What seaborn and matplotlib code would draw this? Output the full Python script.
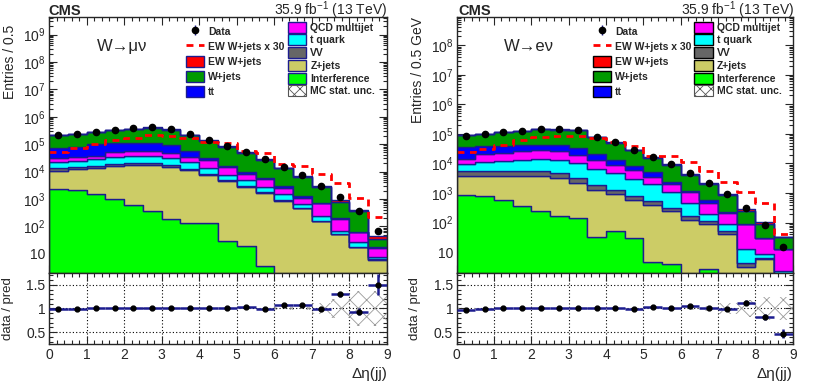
import numpy as np
import pandas as pd
import matplotlib
matplotlib.use("Agg")
import matplotlib.pyplot as plt
import seaborn as sns
from matplotlib.patches import Patch
from matplotlib.lines import Line2D
from matplotlib.ticker import LogLocator, FuncFormatter, MultipleLocator, FixedLocator, NullFormatter

# binning in delta eta(jj)
edges = np.arange(0, 9.5, 0.5)
centers = edges[:-1] + 0.25
bin_list = edges.tolist()

# stack order, bottom to top
procs = ["Interference", "Z+jets", "VV", "t quark", "QCD multijet", "tt", "W+jets", "EW W+jets"]
colors = {"Interference": "#00ff00", "Z+jets": "#cccc66", "VV": "#666666", "t quark": "#00ffff",
          "QCD multijet": "#ff00ff", "tt": "#0000ff", "W+jets": "#009a00", "EW W+jets": "#ff0000"}

# ---- W -> mu nu ----
mu_interf = [2300, 2200, 1500, 1000, 600, 360, 180, 135, 128, 30, 19, 3.6, 0, 0, 0, 0, 0, 0]
mu_zjets = [8400, 9800, 12500, 15000, 16900, 17100, 14800, 10900, 7100, 4370, 2680, 1600, 850, 450, 155, 52, 17, 6]
mu_vv = [2300, 2300, 2000, 3000, 3000, 3000, 2500, 1500, 800, 400, 250, 120, 60, 25, 7, 2, 0.5, 0.2]
mu_top = [10000, 10700, 12000, 14000, 15500, 15500, 13500, 10500, 5500, 2700, 2050, 980, 640, 175, 78, 16, 10.5, 1.4]
mu_qcd = [7000, 8000, 9000, 17000, 21000, 21000, 16000, 12000, 12500, 7000, 3000, 2500, 1050, 450, 460, 120, 34, 8.4]
mu_tt = [43000, 47000, 61000, 56000, 55000, 55000, 48000, 21000, 6000, 2000, 1300, 400, 450, 170, 20, 10, 2, 1]
mu_wjets = [144000, 158000, 179000, 214000, 253000, 291000, 245000, 163000, 101000, 64800, 39300, 21400,
            10300, 5000, 1970, 560, 297, 19]
mu_ew = [1770, 2330, 3330, 4670, 5830, 7000, 6670, 5830, 4000, 3670, 1900, 1570, 630, 530, 270, 123, 37, 7.3]
mu_data = [215000, 235000, 280000, 325000, 375000, 410000, 350000, 230000, 140000, 87000, 52000, 28000,
           15000, 7300, 2900, 1150, 370, 65]
mu_ratio = [0.98, 0.98, 1.0, 1.0, 1.01, 1.0, 1.01, 1.02, 1.02, 1.02, 1.03, 0.98, 1.07, 1.07, 0.98, 1.3, 0.93, 1.5]
mu_rerr = [0.004, 0.004, 0.004, 0.004, 0.004, 0.004, 0.004, 0.005, 0.006, 0.008, 0.01, 0.012,
           0.015, 0.02, 0.03, 0.05, 0.07, 0.22]
mu_band = [0.01, 0.01, 0.01, 0.01, 0.01, 0.01, 0.01, 0.01, 0.01, 0.01, 0.015, 0.02,
           0.03, 0.04, 0.12, 0.19, 0.36, 0.36]

# ---- W -> e nu ----
el_interf = [870, 800, 580, 370, 250, 170, 140, 33, 53, 30, 4.7, 3.9, 0, 2.8, 0, 0, 0, 0]
el_zjets = [3000, 3100, 3300, 3500, 3650, 3130, 2060, 1270, 850, 540, 380, 240, 125, 85, 42, 3.2, 5.7, 0.5]
el_vv = [1500, 1600, 1700, 1700, 1700, 1500, 1100, 600, 350, 220, 140, 80, 40, 25, 9, 1, 0.5, 0.2]
el_top = [4600, 5500, 6900, 7400, 8400, 8030, 6700, 4600, 3550, 2210, 1575, 780, 285, 80, 37, 8.4, 2.3, 1.6]
el_qcd = [4000, 10000, 10500, 13000, 15000, 13000, 10000, 7000, 4200, 3000, 1500, 1000, 600, 280, 125, 76, 21.5, 10.3]
el_tt = [23000, 19000, 17000, 16000, 14000, 16000, 13000, 7500, 4000, 2000, 1400, 200, 150, 110, 10, 3, 1, 0.4]
el_wjets = [51900, 60000, 77600, 84900, 101300, 99000, 103000, 55600, 36800, 20300, 10900, 6600,
            3000, 1390, 650, 154, 57, 18.6]
el_ew = [830, 1030, 1430, 2100, 2700, 2930, 2930, 2400, 1730, 1330, 600, 600, 370, 190, 77, 35, 16, 1.4]
el_data = [87000, 100000, 120000, 130000, 148000, 145000, 140000, 80000, 52000, 29000, 17000, 9600,
           4800, 2200, 930, 315, 85, 15.5]
el_ratio = [0.97, 0.99, 1.01, 1.01, 1.01, 1.01, 1.01, 1.01, 1.01, 0.98, 1.03, 1.01, 1.05, 1.02, 0.98, 1.12, 0.82, 0.47]
el_rerr = [0.006, 0.006, 0.006, 0.006, 0.006, 0.006, 0.006, 0.008, 0.009, 0.012, 0.015, 0.02,
           0.025, 0.03, 0.04, 0.05, 0.06, 0.09]
el_band = [0.01, 0.01, 0.01, 0.01, 0.01, 0.01, 0.01, 0.01, 0.015, 0.015, 0.02, 0.02,
           0.04, 0.05, 0.11, 0.17, 0.25, 0.25]

sns.set_style("ticks", {"xtick.direction": "in", "ytick.direction": "in"})
plt.rcParams["font.family"] = ["Liberation Sans", "DejaVu Sans"]
plt.rcParams["mathtext.fontset"] = "custom"
plt.rcParams["mathtext.rm"] = "Liberation Sans"
plt.rcParams["mathtext.it"] = "Liberation Sans:italic"
plt.rcParams["mathtext.bf"] = "Liberation Sans:bold"
plt.rcParams["hatch.linewidth"] = 0.6

NAVY = "#1c1c8f"
DASH = (0, (2.5, 2))


def log_label(v, pos):
    e = int(round(np.log10(v)))
    if e == 1:
        return "10"
    return r"$10^{%d}$" % e


def draw(fig, x0, w, comps, ew, data, ratio, rerr, band, channel, ylab, ymax, ylab_y, box_edge):
    ax = fig.add_axes([x0, 0.302, w, 0.6547])
    rax = fig.add_axes([x0, 0.120, w, 0.182], sharex=ax)
    ax.set_yscale("log")

    df = pd.DataFrame({
        "process": np.repeat(procs, len(centers)),
        "x": np.tile(centers, len(procs)),
        "w": np.concatenate([comps[p] for p in procs]),
    })
    # seaborn puts the first hue level on top of the stack
    sns.histplot(data=df, x="x", weights="w", hue="process", hue_order=procs[::-1], palette=colors,
                 multiple="stack", bins=bin_list, element="step", fill=True, alpha=1,
                 edgecolor=NAVY, linewidth=1.0, legend=False, ax=ax)
    sns.histplot(x=centers, weights=np.array(ew) * 30, bins=bin_list, element="step", fill=False,
                 color="red", linestyle=DASH, linewidth=2, ax=ax)
    dh = ax.errorbar(centers, data, yerr=np.sqrt(data), fmt="o", color="black", ms=4.5,
                     ecolor=NAVY, elinewidth=1, capsize=0, zorder=5)

    ax.set_xlim(0, 9)
    ax.set_ylim(2, ymax)
    decades = [10.0 ** k for k in range(1, 10) if 10.0 ** k < ymax]
    ax.yaxis.set_major_locator(FixedLocator(decades))
    ax.yaxis.set_minor_locator(LogLocator(base=10, subs=np.arange(2, 10), numticks=200))
    ax.yaxis.set_major_formatter(FuncFormatter(log_label))
    ax.yaxis.set_minor_formatter(NullFormatter())
    ax.set_xlabel("")
    ax.set_ylabel(ylab, fontsize=10, loc="top")
    ax.yaxis.set_label_coords(-0.095, ylab_y)
    ax.text(0.142, 0.883, channel, transform=ax.transAxes, fontsize=12, va="center")

    # legends
    def box(p):
        return Patch(facecolor=colors[p], edgecolor=box_edge, linewidth=1)
    h_ew30 = Line2D([], [], color="red", linestyle=DASH, linewidth=2)
    h_unc = Patch(facecolor="white", edgecolor="#555555", hatch="xxx", linewidth=0.8)
    prop = {"size": 7.5, "weight": "bold"}
    common = dict(loc="upper left", frameon=False, prop=prop, handlelength=1.75, handleheight=1.25,
                  handletextpad=0.4, borderpad=0, borderaxespad=0)
    leg1 = ax.legend([dh, h_ew30, box("EW W+jets"), box("W+jets"), box("tt")],
                     ["Data", "EW W+jets x 30", "EW W+jets", "W+jets", "tt"],
                     bbox_to_anchor=(0.405, 0.966), labelspacing=0.38, **common)
    ax.add_artist(leg1)
    ax.legend([box("QCD multijet"), box("t quark"), box("VV"), box("Z+jets"), box("Interference"), h_unc],
              ["QCD multijet", "t quark", "VV", "Z+jets", "Interference", "MC stat. unc."],
              bbox_to_anchor=(0.707, 0.981), labelspacing=0.16, **common)

    # ratio panel
    band = np.array(band)
    rax.bar(centers, 2 * band, bottom=1 - band, width=0.5, color="none", edgecolor="#999999",
            hatch="xx", linewidth=0, zorder=2)
    rax.errorbar(centers, ratio, xerr=0.25, yerr=rerr, fmt="o", color="black", ms=3.5,
                 ecolor=NAVY, elinewidth=1.8, capsize=0, zorder=4)
    rax.set_ylim(0.25, 1.75)
    rax.yaxis.set_major_locator(FixedLocator([0.5, 1, 1.5]))
    rax.yaxis.set_major_formatter(FuncFormatter(lambda v, p: "%g" % v))
    rax.yaxis.set_minor_locator(MultipleLocator(0.1))
    rax.xaxis.set_major_locator(MultipleLocator(1))
    rax.xaxis.set_minor_locator(MultipleLocator(0.2))
    rax.grid(True, which="major", linestyle=(0, (1, 2)), color="black", linewidth=0.8)
    rax.set_ylabel("data / pred", fontsize=9.5)
    rax.yaxis.set_label_coords(-0.105, 0.5)
    rax.set_xlabel("Δη(jj)", fontsize=11, loc="right")
    rax.xaxis.set_label_coords(1.0, -0.32)

    for a in (ax, rax):
        a.tick_params(which="both", direction="in", top=True, right=True, labelsize=10, width=0.8, pad=2.5)
        a.tick_params(which="major", length=6)
        a.tick_params(which="minor", length=3)
        for s in a.spines.values():
            s.set_linewidth(1.0)
    ax.tick_params(labelbottom=False)
    return ax, rax


fig = plt.figure(figsize=(8.14, 3.91), dpi=100)

mu_comps = {"Interference": mu_interf, "Z+jets": mu_zjets, "VV": mu_vv, "t quark": mu_top,
            "QCD multijet": mu_qcd, "tt": mu_tt, "W+jets": mu_wjets, "EW W+jets": mu_ew}
el_comps = {"Interference": el_interf, "Z+jets": el_zjets, "VV": el_vv, "t quark": el_top,
            "QCD multijet": el_qcd, "tt": el_tt, "W+jets": el_wjets, "EW W+jets": el_ew}

draw(fig, 0.0602, 0.4152, mu_comps, mu_ew, mu_data, mu_ratio, mu_rerr, mu_band,
     "W→μν", "Entries / 0.5", 4.4e9, 0.97, NAVY)
draw(fig, 0.561, 0.413, el_comps, el_ew, el_data, el_ratio, el_rerr, el_band,
     "W→eν", "Entries / 0.5 GeV", 9e8, 1.0, "black")

for x_left, x_right in [(0.060, 0.4755), (0.5627, 0.976)]:
    fig.text(x_left, 0.962, "CMS", fontsize=10.5, fontweight="bold", va="baseline")
    fig.text(x_right, 0.962, r"35.9 fb$^{-1}$ (13 TeV)", fontsize=10, ha="right", va="baseline")

fig.savefig("out.png", dpi=100)
